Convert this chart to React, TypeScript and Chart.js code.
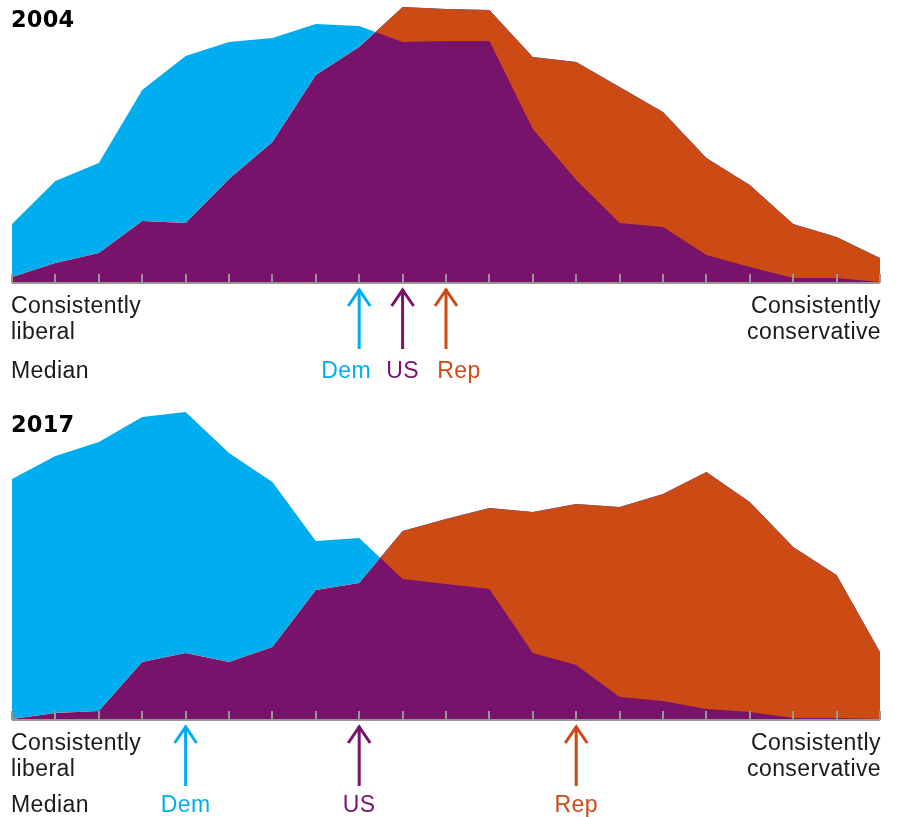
import React, { useEffect, useRef } from "react";
import { Chart, registerables } from "chart.js";

Chart.register(...registerables);

const BLUE = "rgb(0,174,239)";
const PURPLE = "rgb(119,19,106)";
const ORANGE = "rgb(204,74,20)";
const AXIS = "rgb(150,150,150)";
const TEXT = "#1a1a1a";

// 21 points along the ideological consistency scale (liberal -> conservative)
const scalePoints = Array.from({ length: 21 }, (_, i) => String(i));

// 2004 distribution heights (arbitrary units)
const dem2004 = [58, 101, 119, 192, 226, 240, 244, 258, 256, 240, 241, 241, 153, 102, 59, 55, 27, 15, 4, 4, 0];
const rep2004 = [5, 19, 29, 61, 59, 103, 140, 207, 235, 275, 273, 272, 225, 220, 195, 170, 124, 97, 58, 45, 24];

// 2017 distribution heights
const dem2017 = [240, 263, 277, 302, 307, 266, 237, 178, 181, 140, 135, 130, 66, 54, 22, 18, 10, 7, 1, 1, 0];
const rep2017 = [0, 6, 8, 57, 66, 57, 72, 129, 136, 188, 200, 211, 207, 215, 212, 225, 247, 217, 172, 144, 67];

// Medians (index on the scale)
const medianLabels = ["Dem", "US", "Rep"];
const medianColors = [BLUE, PURPLE, ORANGE];
const medians2004 = [8, 9, 10];
const medians2017 = [4, 8, 13];

const BODY_FONT = '23px "Liberation Sans", Arial, sans-serif';
const TITLE_FONT = 'bold 22.5px "DejaVu Sans", sans-serif';

type PanelProps = {
  title: string;
  dem: number[];
  rep: number[];
  medians: number[];
  labelShift: number[];
  top: number;
  height: number;
  plotHeight: number;
  titleY: number;
  medianY: number;
};

function Panel(p: PanelProps) {
  const ref = useRef<HTMLCanvasElement | null>(null);
  useEffect(() => {
    if (!ref.current) return;
    const overlay = {
      id: "overlay",
      afterDatasetsDraw(chart: any) {
        const ctx = chart.ctx;
        const xs = chart.scales.x;
        const ys = chart.scales.y;
        const y0 = ys.getPixelForValue(0);
        ctx.save();
        ctx.strokeStyle = AXIS;
        ctx.lineWidth = 2;
        ctx.beginPath();
        ctx.moveTo(xs.left, y0 + 1);
        ctx.lineTo(xs.right, y0 + 1);
        ctx.stroke();
        scalePoints.forEach((_, i) => {
          const x = Math.round(xs.getPixelForValue(i));
          ctx.beginPath();
          ctx.moveTo(x, y0 - 8);
          ctx.lineTo(x, y0 + 1);
          ctx.stroke();
        });
        ctx.restore();
      },
      afterDraw(chart: any) {
        const ctx = chart.ctx;
        const xs = chart.scales.x;
        const ys = chart.scales.y;
        const y0 = ys.getPixelForValue(0);
        ctx.save();
        // title
        ctx.font = TITLE_FONT;
        ctx.fillStyle = "#000";
        ctx.textBaseline = "middle";
        ctx.textAlign = "left";
        ctx.letterSpacing = "0.2px";
        ctx.fillText(p.title, xs.left - 1, p.titleY);
        // end labels
        ctx.font = BODY_FONT;
        ctx.letterSpacing = "0.4px";
        ctx.fillStyle = TEXT;
        ctx.fillText("Consistently", xs.left - 1, y0 + 25);
        ctx.fillText("liberal", xs.left - 1, y0 + 51);
        ctx.fillText("Median", xs.left - 1, y0 + p.medianY);
        ctx.textAlign = "right";
        ctx.fillText("Consistently", xs.right + 1, y0 + 25);
        ctx.fillText("conservative", xs.right + 1, y0 + 51);
        // median arrows
        p.medians.forEach((m, k) => {
          const x = xs.getPixelForValue(m);
          const tTop = y0 + 6;
          const tBot = y0 + 67;
          ctx.strokeStyle = medianColors[k];
          ctx.lineWidth = 3;
          ctx.lineCap = "butt";
          ctx.lineJoin = "miter";
          ctx.beginPath();
          ctx.moveTo(x, tBot);
          ctx.lineTo(x, tTop + 1);
          ctx.stroke();
          ctx.beginPath();
          ctx.moveTo(x - 11, tTop + 18);
          ctx.lineTo(x, tTop + 2);
          ctx.lineTo(x + 11, tTop + 18);
          ctx.stroke();
          ctx.fillStyle = medianColors[k];
          ctx.textAlign = "center";
          ctx.fillText(medianLabels[k], x + p.labelShift[k], y0 + p.medianY);
        });
        ctx.restore();
      },
    };
    const chart = new Chart(ref.current, {
      type: "line",
      data: {
        labels: scalePoints,
        datasets: [
          {
            label: "Dem",
            data: p.dem,
            borderWidth: 0,
            borderColor: "transparent",
            pointRadius: 0,
            tension: 0,
            fill: { target: 1, above: BLUE, below: ORANGE },
          },
          {
            label: "Rep",
            data: p.rep,
            borderWidth: 0,
            borderColor: "transparent",
            backgroundColor: PURPLE,
            pointRadius: 0,
            tension: 0,
            fill: "origin",
          },
        ],
      },
      options: {
        animation: false,
        responsive: false,
        events: [],
        layout: {
          padding: { left: 12, right: 17, top: 0, bottom: p.height - p.plotHeight },
        },
        plugins: { legend: { display: false }, tooltip: { enabled: false } },
        scales: {
          x: { display: false, offset: false },
          y: { display: false, min: 0, max: p.plotHeight },
        },
      },
      plugins: [overlay],
    } as any);
    return () => chart.destroy();
  }, []);
  return (
    <canvas
      ref={ref}
      width={897}
      height={p.height}
      style={{ position: "absolute", left: 0, top: p.top, width: 897, height: p.height }}
    />
  );
}

export default function App() {
  return (
    <div style={{ position: "absolute", left: 0, top: 0, width: 897, height: 817, background: "#fff" }}>
      <Panel title="2004" dem={dem2004} rep={rep2004} medians={medians2004} labelShift={[-13, 0, 13]} top={0} height={400} plotHeight={282} titleY={21} medianY={90} />
      <Panel title="2017" dem={dem2017} rep={rep2017} medians={medians2017} labelShift={[0, 0, 0]} top={400} height={417} plotHeight={319} titleY={26} medianY={87} />
    </div>
  );
}
